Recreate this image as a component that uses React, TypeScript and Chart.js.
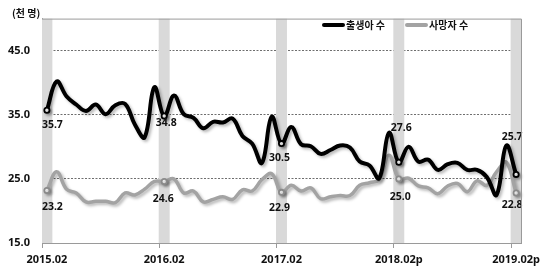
import React, { useEffect, useRef } from "react";
import { Chart, registerables } from "chart.js";

Chart.register(...registerables);

const categories = [
  "2015.02", "2015.03", "2015.04", "2015.05", "2015.06", "2015.07", "2015.08", "2015.09", "2015.10", "2015.11", "2015.12", "2016.01",
  "2016.02", "2016.03", "2016.04", "2016.05", "2016.06", "2016.07", "2016.08", "2016.09", "2016.10", "2016.11", "2016.12", "2017.01",
  "2017.02", "2017.03", "2017.04", "2017.05", "2017.06", "2017.07", "2017.08", "2017.09", "2017.10", "2017.11", "2017.12", "2018.01p",
  "2018.02p", "2018.03p", "2018.04p", "2018.05p", "2018.06p", "2018.07p", "2018.08p", "2018.09p", "2018.10p", "2018.11p", "2018.12p", "2019.01p",
  "2019.02p",
];

const births = [
  35.7, 40.2, 37.9, 36.6, 35.6, 36.6, 35.1, 36.5, 36.7, 33.5, 31.5, 39.3,
  34.8, 38.0, 35.1, 34.5, 32.9, 33.9, 33.8, 34.4, 31.7, 30.5, 27.5, 34.7,
  30.5, 33.1, 30.4, 30.1, 28.9, 29.5, 30.2, 29.9, 27.7, 27.1, 25.1, 32.2,
  27.6, 30.0, 27.7, 28.0, 26.4, 27.3, 27.5, 26.4, 26.4, 25.3, 22.5, 30.2,
  25.7,
];

const deaths = [
  23.2, 26.1, 23.4, 22.8, 21.4, 21.5, 21.5, 21.3, 22.8, 22.5, 23.4, 24.6,
  24.6, 25.0, 22.8, 23.1, 21.4, 21.8, 22.2, 21.8, 23.3, 23.1, 24.9, 25.8,
  22.9, 24.0, 23.1, 23.6, 21.9, 22.2, 22.4, 22.4, 24.0, 24.4, 24.9, 28.7,
  25.0, 25.1, 23.9, 23.6, 22.7, 23.9, 24.3, 23.0, 24.7, 24.0, 26.1, 27.6,
  22.8,
];

const yTicks = [15, 25, 35, 45, 50];
const seriesNames = ["출생아 수", "사망자 수"];
const unitLabel = "(천 명)";

// styling
const BLACK = "#000000";
const GRAY = "#a3a3a3";
const BAND = "#d9d9d9";
const AXIS = "#9a9a9a";
const NUM_FONT = '"Noto Sans", "Noto Sans CJK KR", sans-serif';
const KR_FONT = '"Noto Sans CJK KR", "Noto Sans", sans-serif';
const labelOffsets = [
  [[5.5, 14.5], [2, 7], [-2, 14], [2.5, -34], [-4, -37]],
  [[5.5, 16.5], [-1, 17.5], [-2, 15.5], [1.5, 18], [-4, 12]],
];

const isFeb = (i: number) => i % 12 === 0;

export default function App() {
  const ref = useRef<HTMLCanvasElement | null>(null);

  useEffect(() => {
    if (!ref.current) return;

    const shadowPlugin = {
      id: "lineShadow",
      beforeDatasetDraw(chart: any, args: any) {
        const ds = chart.data.datasets[args.index];
        if (ds.type !== "line") return;
        const ctx = chart.ctx;
        ctx.save();
        ctx.shadowColor = "rgba(0,0,0,0.28)";
        ctx.shadowBlur = 3;
        ctx.shadowOffsetX = 2;
        ctx.shadowOffsetY = 2;
      },
      afterDatasetDraw(chart: any, args: any) {
        const ds = chart.data.datasets[args.index];
        if (ds.type !== "line") return;
        chart.ctx.restore();
      },
    };

    const framePlugin = {
      id: "frame",
      afterDraw(chart: any) {
        const { ctx, chartArea } = chart;
        ctx.save();
        ctx.strokeStyle = AXIS;
        ctx.lineWidth = 1;
        ctx.beginPath();
        ctx.moveTo(chartArea.left, chartArea.top + 0.5);
        ctx.lineTo(chartArea.right + 0.5, chartArea.top + 0.5);
        ctx.lineTo(chartArea.right + 0.5, chartArea.bottom);
        ctx.stroke();
        ctx.restore();
      },
    };

    const labelPlugin = {
      id: "febLabels",
      afterDatasetsDraw(chart: any) {
        const ctx = chart.ctx;
        ctx.save();
        ctx.font = `bold 10.5px ${NUM_FONT}`;
        ctx.fillStyle = "#111";
        ctx.textAlign = "center";
        ctx.textBaseline = "middle";
        [1, 2].forEach((dsIndex, s) => {
          const meta = chart.getDatasetMeta(dsIndex);
          const data = chart.data.datasets[dsIndex].data as number[];
          let k = 0;
          data.forEach((v, i) => {
            if (!isFeb(i)) return;
            const pt = meta.data[i];
            const off = labelOffsets[s][k++] || [0, 12];
            ctx.fillText(v.toFixed(1), pt.x + off[0], pt.y + off[1]);
          });
        });
        ctx.restore();
      },
    };

    const chart = new Chart(ref.current, {
      type: "line",
      data: {
        labels: categories,
        datasets: [
          {
            type: "bar",
            label: "band",
            data: categories.map((_, i) => (isFeb(i) ? [yTicks[0], yTicks[yTicks.length - 1]] : null)) as any,
            backgroundColor: BAND,
            borderWidth: 0,
            barPercentage: 1.12,
            categoryPercentage: 1,
            order: 10,
          },
          {
            type: "line",
            label: seriesNames[0],
            data: births,
            borderColor: BLACK,
            backgroundColor: BLACK,
            borderWidth: 4,
            tension: 0.4,
            pointRadius: (c: any) => (isFeb(c.dataIndex) ? 2.6 : 0),
            pointBackgroundColor: "#ffffff",
            pointBorderColor: BLACK,
            pointBorderWidth: 1.8,
            order: 1,
          },
          {
            type: "line",
            label: seriesNames[1],
            data: deaths,
            borderColor: GRAY,
            backgroundColor: GRAY,
            borderWidth: 3.5,
            tension: 0.4,
            pointRadius: (c: any) => (isFeb(c.dataIndex) ? 2.6 : 0),
            pointBackgroundColor: "#ffffff",
            pointBorderColor: "#8a8a8a",
            pointBorderWidth: 1.8,
            order: 2,
          },
        ],
      },
      options: {
        animation: false,
        responsive: true,
        maintainAspectRatio: false,
        layout: { padding: { top: 6, right: 19, bottom: 0, left: 0 } },
        plugins: {
          legend: { display: false },
          tooltip: { enabled: false },
        },
        scales: {
          x: {
            type: "category",
            offset: true,
            grid: {
              offset: true,
              drawOnChartArea: false,
              drawTicks: true,
              tickLength: 5,
              tickColor: (c: any) => (c.index % 12 === 0 ? AXIS : "rgba(0,0,0,0)"),
              color: "rgba(0,0,0,0)",
            },
            border: { display: true, color: AXIS, width: 1 },
            ticks: {
              autoSkip: false,
              maxRotation: 0,
              minRotation: 0,
              padding: 5,
              color: "#111",
              font: { family: NUM_FONT, size: 11, weight: "bold" },
              callback: (_v: any, i: number) => (isFeb(i) ? categories[i] : ""),
            },
            afterFit: (scale: any) => {
              scale.height = 27;
              scale.paddingLeft = 0;
              scale.paddingRight = 0;
            },
          },
          y: {
            min: yTicks[0],
            max: yTicks[yTicks.length - 1],
            afterBuildTicks: (scale: any) => {
              scale.ticks = yTicks.map((v) => ({ value: v }));
            },
            grid: {
              drawTicks: false,
              color: (c: any) =>
                c.tick && c.tick.value > yTicks[0] && c.tick.value < yTicks[yTicks.length - 1] ? "#6e6e6e" : "rgba(0,0,0,0)",
              lineWidth: 1,
            },
            border: {
              display: true,
              color: AXIS,
              width: 1,
              dash: (c: any) => (c.tick ? [2, 1.5] : []),
            },
            ticks: {
              padding: 12,
              color: "#111",
              font: { family: NUM_FONT, size: 11, weight: "bold" },
              callback: (v: any) => (v === yTicks[yTicks.length - 1] ? "" : Number(v).toFixed(1)),
            },
            afterFit: (scale: any) => {
              scale.width = 42;
            },
          },
        },
      },
      plugins: [shadowPlugin, labelPlugin, framePlugin],
    });

    return () => chart.destroy();
  }, []);

  const swatch = (color: string, marginLeft: number) => (
    <span
      style={{
        display: "inline-block",
        width: 23,
        height: 4,
        background: color,
        borderRadius: 2,
        marginLeft,
        marginRight: 1,
      }}
    />
  );

  return (
    <div style={{ position: "fixed", left: 0, top: 0, width: 540, height: 270, background: "#fff" }}>
      <canvas ref={ref} />
      <div
        style={{
          position: "absolute",
          left: 12,
          top: 6,
          font: `bold 10px ${KR_FONT}`,
          color: "#111",
          whiteSpace: "nowrap",
          lineHeight: "14px",
        }}
      >
        {unitLabel}
      </div>
      <div
        style={{
          position: "absolute",
          left: 322,
          top: 18,
          display: "flex",
          alignItems: "center",
          font: `bold 10px ${KR_FONT}`,
          color: "#111",
          whiteSpace: "nowrap",
          lineHeight: "14px",
        }}
      >
        {swatch(BLACK, 0)}
        <span>{seriesNames[0]}</span>
        {swatch(GRAY, 20)}
        <span>{seriesNames[1]}</span>
      </div>
    </div>
  );
}
